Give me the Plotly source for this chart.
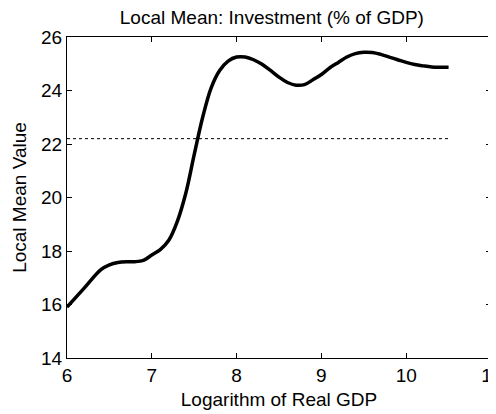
import plotly.graph_objects as go

log_gdp = [6.0, 6.2, 6.4, 6.5, 6.6, 6.7, 6.8, 6.9, 7.0, 7.1, 7.2, 7.3, 7.4, 7.5, 7.6,
           7.7, 7.8, 7.9, 8.0, 8.1, 8.2, 8.3, 8.4, 8.5, 8.6, 8.7, 8.8, 8.9, 9.0,
           9.1, 9.2, 9.3, 9.4, 9.5, 9.6, 9.7, 9.8, 9.9, 10.0, 10.1, 10.2, 10.3, 10.4, 10.5]
local_mean = [15.9, 16.6, 17.3, 17.48, 17.57, 17.6, 17.6, 17.65, 17.85, 18.05, 18.4, 19.1,
              20.15, 21.6, 23.0, 24.1, 24.75, 25.1, 25.25, 25.25, 25.15, 24.98, 24.75,
              24.5, 24.3, 24.2, 24.22, 24.4, 24.6, 24.85, 25.05, 25.25, 25.38, 25.43,
              25.42, 25.35, 25.25, 25.15, 25.05, 24.97, 24.92, 24.88, 24.87, 24.87]
overall_mean_x = [6.0, 10.5]
overall_mean_y = [22.2, 22.2]

FONT = "Liberation Sans, Arial, sans-serif"
FS = 19

fig = go.Figure()
fig.add_trace(go.Scatter(x=overall_mean_x, y=overall_mean_y, mode="lines",
                         line=dict(color="black", width=1, dash="dot"), showlegend=False))
fig.add_trace(go.Scatter(x=log_gdp, y=local_mean, mode="lines",
                         line=dict(color="black", width=3.5, shape="spline"), showlegend=False))

axis_common = dict(showgrid=False, zeroline=False, showline=True, linecolor="black",
                   linewidth=1, mirror="ticks", ticks="inside", ticklen=5,
                   tickcolor="black", ticklabeloverflow="allow", automargin=False,
                   tickfont=dict(family=FONT, size=FS, color="black"))

fig.update_layout(
    width=496, height=414,
    margin=dict(l=59, r=13, t=29, b=64),
    paper_bgcolor="white", plot_bgcolor="white",
    title=dict(text="Local Mean: Investment (% of GDP)", x=0.532, xanchor="center",
               y=0.978, yanchor="middle", font=dict(family=FONT, size=FS, color="black")),
    xaxis=dict(range=[6, 11], dtick=1, tick0=6,
               title=dict(text="Logarithm of Real GDP", standoff=7,
                          font=dict(family=FONT, size=FS, color="black")),
               **axis_common),
    yaxis=dict(range=[14, 26], dtick=2, tick0=14,
               title=dict(text="Local Mean Value", standoff=9,
                          font=dict(family=FONT, size=FS, color="black")),
               **axis_common),
)

fig.write_html("out.html")
